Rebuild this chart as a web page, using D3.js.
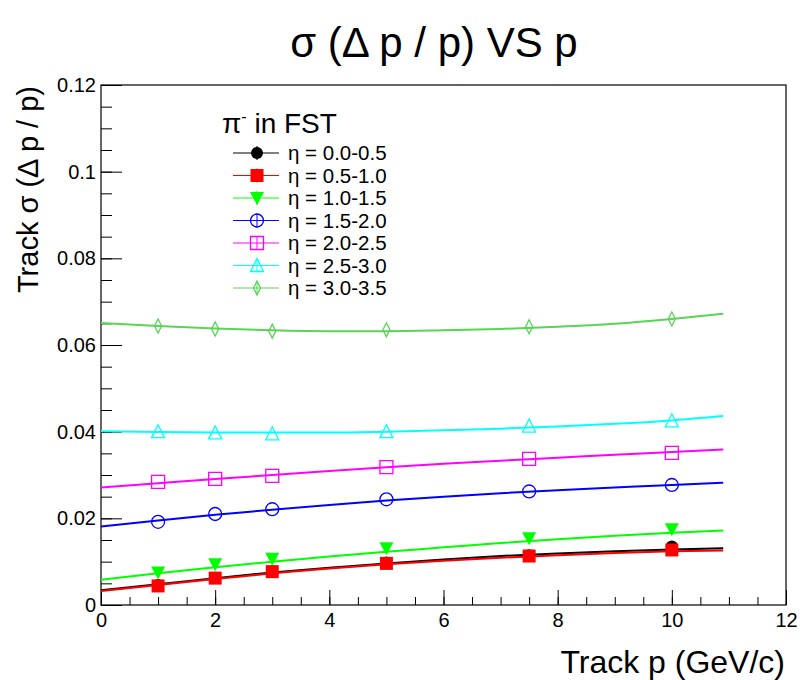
<!DOCTYPE html>
<html>
<head>
<meta charset="utf-8">
<script src="https://cdn.jsdelivr.net/npm/d3@7"></script>
<style>
  body { margin: 0; background: white; }
</style>
</head>
<body>
<svg></svg>
<script>
const width = 800;
const height = 680;
const margin = { top: 85, right: 14, bottom: 75, left: 101 };

// momentum points (GeV/c)
const momenta = [1, 2, 3, 5, 7.5, 10];
// fit curve sample momenta
const fitMomenta = [0, 1, 2, 3, 4, 5, 6, 7, 8, 9, 10, 10.9];

const etaBins = ["0.0-0.5", "0.5-1.0", "1.0-1.5", "1.5-2.0", "2.0-2.5", "2.5-3.0", "3.0-3.5"];

const sigmaEta00 = [0.0046, 0.0063, 0.0078, 0.0098, 0.0115, 0.0135];
const sigmaEta05 = [0.0044, 0.0062, 0.0077, 0.0096, 0.0113, 0.0127];
const sigmaEta10 = [0.0075, 0.0094, 0.0107, 0.0131, 0.0154, 0.0175];
const sigmaEta15 = [0.0192, 0.0210, 0.0221, 0.0244, 0.0262, 0.0277];
const sigmaEta20 = [0.0284, 0.0291, 0.0298, 0.0318, 0.0337, 0.0351];
const sigmaEta25 = [0.0400, 0.0397, 0.0395, 0.0400, 0.0413, 0.0425];
const sigmaEta30 = [0.0644, 0.0637, 0.0632, 0.0635, 0.0642, 0.0660];

const fitEta00 = [0.0034, 0.0048, 0.0062, 0.0075, 0.0086, 0.0096, 0.0105, 0.0113, 0.0119, 0.0124, 0.0128, 0.0131];
const fitEta05 = [0.0032, 0.0046, 0.0060, 0.0073, 0.0084, 0.0094, 0.0102, 0.0109, 0.0115, 0.0120, 0.0124, 0.0126];
const fitEta10 = [0.0058, 0.0073, 0.0087, 0.0100, 0.0112, 0.0123, 0.0133, 0.0143, 0.0152, 0.0160, 0.0167, 0.0172];
const fitEta15 = [0.0181, 0.0195, 0.0208, 0.0220, 0.0231, 0.0241, 0.0250, 0.0258, 0.0265, 0.0271, 0.0277, 0.0282];
const fitEta20 = [0.0271, 0.0281, 0.0291, 0.0300, 0.0309, 0.0318, 0.0326, 0.0333, 0.0340, 0.0347, 0.0353, 0.0359];
const fitEta25 = [0.0401, 0.0399, 0.0398, 0.0398, 0.0398, 0.0400, 0.0403, 0.0407, 0.0412, 0.0418, 0.0426, 0.0436];
const fitEta30 = [0.0651, 0.0644, 0.0638, 0.0634, 0.0632, 0.0632, 0.0634, 0.0637, 0.0642, 0.0649, 0.0660, 0.0672];

const xTicks = [0, 2, 4, 6, 8, 10, 12];
const xTickLabels = ["0", "2", "4", "6", "8", "10", "12"];
const yTicks = [0, 0.02, 0.04, 0.06, 0.08, 0.1, 0.12];
const yTickLabels = ["0", "0.02", "0.04", "0.06", "0.08", "0.1", "0.12"];

const colors = ["#000000", "#ff0000", "#00ff00", "#0000ff", "#ff00ff", "#00ffff", "#59d454"];
const markers = ["fcircle", "fsquare", "ftridown", "ocircle", "osquare", "otriup", "odiamond"];

const series = etaBins.map((eta, i) => ({
  eta,
  color: colors[i],
  marker: markers[i],
  points: [sigmaEta00, sigmaEta05, sigmaEta10, sigmaEta15, sigmaEta20, sigmaEta25, sigmaEta30][i]
    .map((v, j) => ({ p: momenta[j], s: v })),
  fit: [fitEta00, fitEta05, fitEta10, fitEta15, fitEta20, fitEta25, fitEta30][i]
    .map((v, j) => ({ p: fitMomenta[j], s: v }))
}));

const font = '"Liberation Sans", Arial, Helvetica, sans-serif';

const svg = d3.select("svg")
  .attr("width", width)
  .attr("height", height)
  .style("font-family", font);

const x = d3.scaleLinear()
  .domain([0, 12])
  .range([margin.left, width - margin.right]);

const y = d3.scaleLinear()
  .domain([0, 0.12])
  .range([height - margin.bottom, margin.top]);

// marker shapes, centred on 0,0
function markerPath(kind) {
  switch (kind) {
    case "fcircle": return d3.symbol(d3.symbolCircle, Math.PI * 36)();
    case "ocircle": return d3.symbol(d3.symbolCircle, Math.PI * 42)();
    case "fsquare": return "M-6.5,-6.5H6.5V6.5H-6.5Z";
    case "osquare": return "M-6.5,-6.5H6.5V6.5H-6.5Z";
    case "ftridown": return "M-7,-6H7L0,7Z";
    case "otriup": return "M-6.5,6H6.5L0,-7Z";
    case "odiamond": return "M0,-7L3.5,0L0,7L-3.5,0Z";
  }
}
const isFilled = k => k.startsWith("f");

function drawMarker(sel, d) {
  sel.append("path")
    .attr("d", markerPath(d.marker))
    .attr("fill", isFilled(d.marker) ? d.color : "none")
    .attr("stroke", d.color)
    .attr("stroke-width", isFilled(d.marker) ? 0 : 1.3);
}

// axes
const plotBottom = height - margin.bottom;

svg.append("g")
  .attr("transform", `translate(0,${plotBottom})`)
  .call(d3.axisBottom(x).tickValues(d3.range(0, 12.01, 0.5)).tickSize(-8).tickSizeOuter(0).tickFormat(""));

svg.append("g")
  .attr("class", "xaxis")
  .attr("transform", `translate(0,${plotBottom})`)
  .call(d3.axisBottom(x).tickValues(xTicks).tickSize(-15).tickSizeOuter(0).tickPadding(8)
    .tickFormat((d, i) => xTickLabels[i]));

svg.append("g")
  .attr("transform", `translate(${margin.left},0)`)
  .call(d3.axisLeft(y).tickValues(d3.range(0, 0.1201, 0.005)).tickSize(-11).tickSizeOuter(0).tickFormat(""));

svg.append("g")
  .attr("class", "yaxis")
  .attr("transform", `translate(${margin.left},0)`)
  .call(d3.axisLeft(y).tickValues(yTicks).tickSize(-21).tickSizeOuter(0).tickPadding(5)
    .tickFormat((d, i) => yTickLabels[i]));

svg.selectAll(".xaxis text, .yaxis text")
  .style("font-family", font)
  .style("font-size", "20px")
  .attr("fill", "#000");

svg.selectAll(".domain").remove();

svg.append("rect")
  .attr("x", margin.left)
  .attr("y", margin.top)
  .attr("width", width - margin.right - margin.left)
  .attr("height", plotBottom - margin.top)
  .attr("fill", "none")
  .attr("stroke", "#000")
  .attr("stroke-width", 1.2);

// fit curves + points
const line = d3.line()
  .x(d => x(d.p))
  .y(d => y(d.s))
  .curve(d3.curveMonotoneX);

series.forEach(s => {
  const g = svg.append("g");
  g.append("path")
    .datum(s.fit)
    .attr("d", line)
    .attr("fill", "none")
    .attr("stroke", s.color)
    .attr("stroke-width", 2);

  g.selectAll("g.pt")
    .data(s.points)
    .enter()
    .append("g")
    .attr("class", "pt")
    .attr("transform", d => `translate(${x(d.p)},${y(d.s)})`)
    .each(function () { drawMarker(d3.select(this), s); });
});

// title
svg.append("text")
  .attr("x", 434)
  .attr("y", 57)
  .attr("text-anchor", "middle")
  .style("font-size", "42px")
  .text("σ (Δ p / p) VS p");

// axis titles
svg.append("text")
  .attr("x", width - 15)
  .attr("y", 673)
  .attr("text-anchor", "end")
  .style("font-size", "32px")
  .text("Track p (GeV/c)");

svg.append("text")
  .attr("transform", "translate(38,86) rotate(-90)")
  .attr("text-anchor", "end")
  .style("font-size", "29px")
  .text("Track σ (Δ p / p)");

// legend
const legend = svg.append("g")
  .attr("transform", "translate(222,133)");

const header = legend.append("text")
  .style("font-size", "28px");
header.append("tspan").text("π");
header.append("tspan").attr("dy", -11).style("font-size", "16px").text("-");
header.append("tspan").attr("dy", 11).text(" in FST");

const rows = legend.selectAll("g.row")
  .data(series)
  .enter()
  .append("g")
  .attr("class", "row")
  .attr("transform", (d, i) => `translate(0,${20 + i * 22.5})`);

rows.append("line")
  .attr("x1", 11).attr("x2", 57)
  .attr("stroke", d => d.color)
  .attr("stroke-width", 1);

rows.append("line")
  .attr("x1", 35).attr("x2", 35)
  .attr("y1", -7).attr("y2", 7)
  .attr("stroke", d => d.color)
  .attr("stroke-width", 1);

rows.append("g")
  .attr("transform", "translate(35,0)")
  .each(function (d) { drawMarker(d3.select(this), d); });

rows.append("text")
  .attr("x", 66)
  .attr("y", 7)
  .style("font-size", "20.5px")
  .text(d => `η = ${d.eta}`);
</script>
</body>
</html>
